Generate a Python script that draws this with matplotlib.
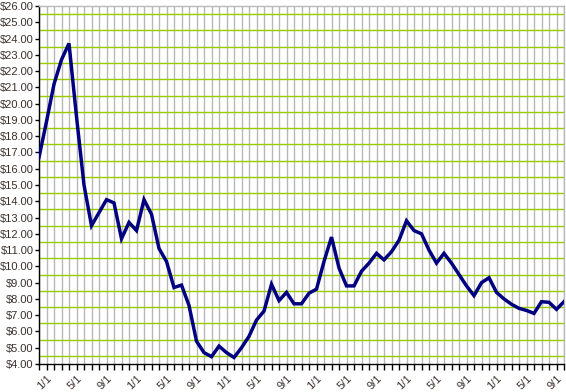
import matplotlib
matplotlib.use("Agg")
import matplotlib.pyplot as plt
import numpy as np

# ---- data ----
prices = [16.7, 18.9, 21.2, 22.7, 23.7, 19.2, 15.0, 12.5, 13.3, 14.1,
          13.9, 11.7, 12.7, 12.2, 14.1, 13.2, 11.1, 10.3, 8.7, 8.85,
          7.6, 5.4, 4.7, 4.45, 5.1, 4.7, 4.4, 5.0, 5.7, 6.7,
          7.25, 8.9, 7.9, 8.4, 7.7, 7.7, 8.35, 8.6, 10.3, 11.8,
          9.9, 8.8, 8.8, 9.7, 10.2, 10.8, 10.4, 10.9, 11.6, 12.8,
          12.2, 12.0, 11.0, 10.2, 10.8, 10.2, 9.5, 8.8, 8.2, 9.0,
          9.3, 8.4, 8.0, 7.67, 7.42, 7.29, 7.11, 7.83, 7.79, 7.36,
          7.83]
month_labels = ["1/1", "5/1", "9/1"]
y_min, y_max = 4, 26

plt.rcParams['font.family'] = ['Liberation Sans', 'DejaVu Sans']

W, H = 566, 392
fig = plt.figure(figsize=(W/100, H/100), dpi=100)
ax = fig.add_axes([39/W, 1-364/H, (564-39)/W, (364-6)/H])

n = len(prices)
x = np.arange(n)
ax.set_xlim(0, n-1)
ax.set_ylim(y_min, y_max)

# vertical gridlines (monthly)
for xi in x:
    ax.axvline(xi, color='#b8b8b8', lw=1.0, zorder=1)
# horizontal green gridlines at half dollars
for yv in np.arange(y_min+0.5, y_max, 1.0):
    ax.axhline(yv, color='#99cc00', lw=1.0, zorder=2)

ax.plot(x, prices, color='#000080', lw=2.5, zorder=5, solid_joinstyle='miter')

# y ticks
yt = np.arange(y_min, y_max+1, 1)
ax.set_yticks(yt)
ax.set_yticklabels([f"${v:.2f}" for v in yt], fontsize=8, color='#3a302c')
# x ticks
ax.set_xticks(x)
labels = []
for i in x:
    if (i - 1) % 4 == 0:
        labels.append(month_labels[((i - 1) // 4) % 3])
    else:
        labels.append("")
ax.set_xticklabels(labels, fontsize=8, color='#3a302c', rotation=45,
                   ha='right', va='top', rotation_mode='anchor')

ax.tick_params(axis='y', direction='out', length=3, width=1, color='#000000', pad=1)
ax.tick_params(axis='x', direction='out', length=4, width=1, color='#000000', pad=3)

for side in ['left', 'bottom']:
    ax.spines[side].set_color('#000000')
    ax.spines[side].set_linewidth(1)
for side in ['top', 'right']:
    ax.spines[side].set_color('#b8b8b8')
    ax.spines[side].set_linewidth(1)

fig.savefig("out.png", dpi=100)
